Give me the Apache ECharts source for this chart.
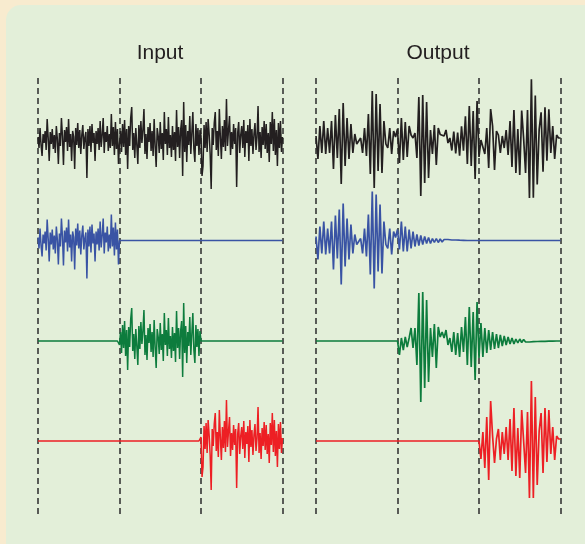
<!DOCTYPE html>
<html>
<head>
<meta charset="utf-8">
<script src="https://cdn.jsdelivr.net/npm/echarts@6/dist/echarts.min.js"></script>
<style>
  html, body { margin: 0; padding: 0; background: #f8ebcf; overflow: hidden; }
  #panel { position: absolute; left: 6px; top: 5px; width: 620px; height: 580px; background: #e3efd9; border-top-left-radius: 15px; }
  #chart { position: absolute; left: 0; top: 0; width: 585px; height: 544px; }
</style>
</head>
<body>
<div id="panel"></div>
<div id="chart"></div>
<script>
// Column titles
const panelTitles = ['Input', 'Output'];

// Samples per third of the time window
const inputPerThird = 80;
const outputPerThird = 42;

// Input noise bursts (amplitude), one burst per third
const blueIn = [
  3, -8, 12, -5, -16, 6, -3, 9, -10, 21,
  2, -21, 8, -4, 11, -9, 5, -13, 14, 1,
  -24, 7, -6, 22, 4, -25, 10, -2, 13, -11,
  21, -7, 6, -21, 9, 3, -29, 12, -5, 17,
  -8, 10, -14, 5, 15, -9, 2, 8, -38, 11,
  -6, 14, -12, 16, -3, 7, -21, 9, -4, 12,
  -10, 19, -7, 5, 22, -13, 8, -2, 14, -11,
  6, -8, 26, -6, 13, -15, 18, -9, 11, -24, 0
];
const greenIn = [
  -4, 9, -12, 16, -7, 20, -15, 11, -29, 14,
  -6, 22, 33, -10, 7, -18, 12, -5, -24, 15,
  -8, 19, -3, 10, 31, -14, 6, -19, 13, -2,
  17, -11, 9, -16, 21, -6, -27, 12, 4, -13,
  18, -9, 7, -20, 28, -4, 11, -15, 23, -8,
  5, -17, 14, -10, 8, -21, 30, -7, 13, -18,
  10, 20, -36, 38, -12, 15, -22, 9, -5, 24,
  -14, 7, 28, -9, -22, 16, -6, 12, -15, 10, 0
];
const redIn = [
  4, -36, -26, 15, -8, 18, -12, 21, 6, -14,
  -49, 12, -5, 17, 28, -10, 9, -16, 31, 3,
  -19, 14, -7, 20, -11, 41, -6, 10, 24, -15,
  8, -9, 16, -4, 12, -47, 7, 18, -13, 5,
  14, -8, 20, -17, 9, -3, 15, -21, 21, -6,
  11, -14, 6, 17, -10, 3, 34, -12, 8, -18,
  13, -5, 19, -9, 16, -13, 7, -22, 18, -4,
  28, -11, 21, -15, 10, -26, 17, -8, 19, -12, 3
];

// Resonant responses to each burst, including the ringing tails
const blueOut = [
  4, -19, 14, -13, 19, -14, 12, -13, 19, -29,
  25, -18, 31, -44, 37, -26, 22, -19, 16, -13,
  6, -4, -2, 2, -13, 12, -16, 26, -34, 49,
  -48, 46, -31, 36, -33, 19, -4, -8, 12, -14,
  9, 3, 11, -9, 19, -11, 14, -11, 11, -8,
  9, -6, 6, -5, 5, -4, 4, -3, 3, -3,
  2, -2, 2, -2, 1.5, -1.5, 1, -1, 1, -1,
  0.5, -0.5, 0.5, -0.5, 0.3, -0.3, 0.2, -0.2, 0
];
const greenOut = [
  0, -14, 3, -9, 4, -6, 3, 13, -7, 13,
  -24, 48, -61, 49, -47, 41, -41, 13, -16, 17,
  -27, 14, 4, 9, 3, 11, -4, 3, -11, 9,
  -14, 8, -16, 14, -11, 24, -24, 34, -26, 29,
  -39, 39, -17, 18, -16, 13, -12, 11, -9, 9,
  -8, 7, -7, 6, -5, 5, -4, 4, -3, 3,
  -3, 2, -2, 2, -1.5, 1.5, -1, 1, -1, 0.7,
  -0.7, 0.5, -0.5, 0.4, -0.4, 0.3, -0.3, 0.2, -0.2, 0.1,
  -0.1, 0
];
const redOut = [
  0, -18, 9, -27, 24, -39, 40, 5, -22, 2,
  12, -19, 9, -13, 14, -19, 22, -30, 33, -35,
  13, -37, 31, 0, -32, 29, -57, 60, -57, 44,
  -44, 10, 28, -32, 33, -21, 31, -13, 14, -19,
  5, 2, 2
];

const rowColors = ['#231f20', '#3953a4', '#0d7c3d', '#ed1f24'];

// Place a burst on the full time axis (zero outside it)
function place(seg, offset, last) {
  const arr = new Array(last + 1).fill(0);
  seg.forEach((v, i) => { if (offset + i <= last) arr[offset + i] = v; });
  return arr;
}
function sum(...arrs) {
  return arrs[0].map((_, i) => arrs.reduce((s, a) => s + a[i], 0));
}

const inLast = inputPerThird * 3;
const outLast = outputPerThird * 3;
const inRows = [
  null,
  place(blueIn, 0, inLast),
  place(greenIn, inputPerThird, inLast),
  place(redIn, inputPerThird * 2, inLast)
];
inRows[0] = sum(inRows[1], inRows[2], inRows[3]);
const outRows = [
  null,
  place(blueOut, 0, outLast),
  place(greenOut, outputPerThird, outLast),
  place(redOut, outputPerThird * 2, outLast)
];
outRows[0] = sum(outRows[1], outRows[2], outRows[3]);

const baselines = [140, 240.5, 341, 441];
const columns = [
  { left: 38, width: 244.5, last: inLast, step: inputPerThird, rows: inRows, cx: 160, lw: 1.5 },
  { left: 316, width: 244.5, last: outLast, step: outputPerThird, rows: outRows, cx: 438, lw: 1.7 }
];

const grid = [], xAxis = [], yAxis = [], series = [];
const hidden = { axisLine: { show: false }, axisTick: { show: false }, axisLabel: { show: false }, splitLine: { show: false } };

columns.forEach((col) => {
  // Dashed markers at the thirds
  const gi = grid.length;
  grid.push({ left: col.left, width: col.width, top: 78, height: 438 });
  xAxis.push({
    type: 'value', gridIndex: gi, min: 0, max: col.last, interval: col.step,
    axisLine: { show: false }, axisTick: { show: false }, axisLabel: { show: false },
    splitLine: { show: true, lineStyle: { color: '#2b2b2b', width: 1.5, type: [6, 4] } }
  });
  yAxis.push(Object.assign({ type: 'value', gridIndex: gi, min: 0, max: 1 }, hidden));

  baselines.forEach((b, r) => {
    const idx = grid.length;
    grid.push({ left: col.left, width: col.width, top: b - 50, height: 100 });
    xAxis.push(Object.assign({ type: 'value', gridIndex: idx, min: 0, max: col.last }, hidden));
    yAxis.push(Object.assign({ type: 'value', gridIndex: idx, min: -50, max: 50 }, hidden));
    series.push({
      type: 'line', xAxisIndex: idx, yAxisIndex: idx,
      data: col.rows[r].map((v, i) => [i, v]),
      showSymbol: false, clip: false, silent: true,
      lineStyle: { color: rowColors[r], width: col.lw },
      z: 3
    });
  });
});

const chart = echarts.init(document.getElementById('chart'), null, { renderer: 'canvas' });
chart.setOption({
  animation: false,
  backgroundColor: 'transparent',
  graphic: columns.map((col, k) => ({
    type: 'text', z: 10,
    style: { x: col.cx, y: 53.5, text: panelTitles[k], fill: '#231f20', font: '21px "Liberation Sans", Arial, sans-serif', textAlign: 'center', textVerticalAlign: 'middle' }
  })),
  grid, xAxis, yAxis, series
});
</script>
</body>
</html>
